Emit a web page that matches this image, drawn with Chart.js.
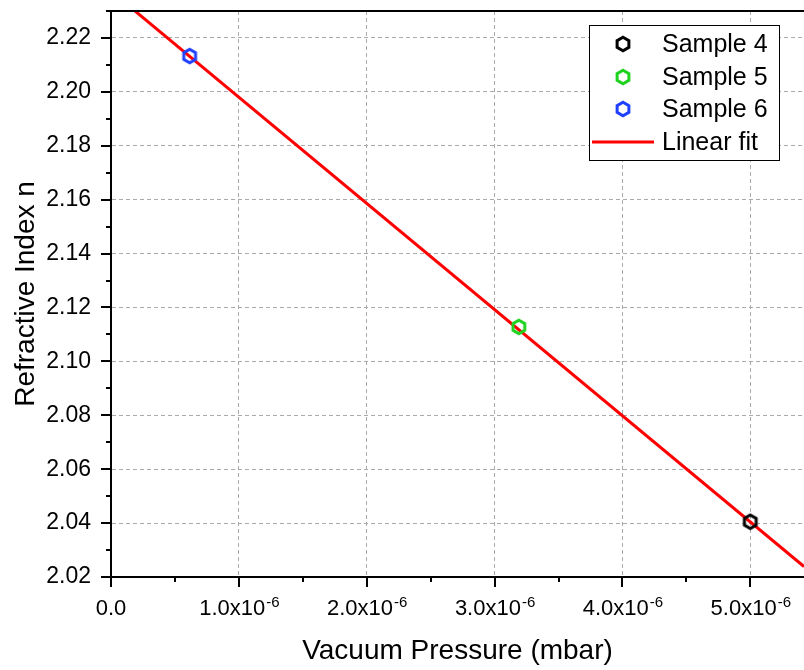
<!DOCTYPE html>
<html>
<head>
<meta charset="utf-8">
<script src="https://cdn.jsdelivr.net/npm/chart.js@4"></script>
<style>
  html, body { margin: 0; padding: 0; background: #fff; }
</style>
</head>
<body>
<canvas id="fitChart" width="804" height="670"></canvas>
<script>
// pressure is in units of 1e-6 mbar
var sampleNames = ["Sample 4", "Sample 5", "Sample 6"];
var sampleColors = ["#000000", "#1fd21f", "#2040ff"];
var pressure = [5.0, 3.19, 0.615];
var refIndex = [2.0405, 2.1128, 2.2133];

var fitLabel = "Linear fit";
var fitPressure = [0, 5.42];
var fitIndex = [2.2374, 2.0239];

var xMajor = [0, 1, 2, 3, 4, 5];
var xMinor = [0.5, 1.5, 2.5, 3.5, 4.5];
var yMajor = [2.02, 2.04, 2.06, 2.08, 2.10, 2.12, 2.14, 2.16, 2.18, 2.20, 2.22];
var yMinor = [2.03, 2.05, 2.07, 2.09, 2.11, 2.13, 2.15, 2.17, 2.19, 2.21, 2.23];

var FONT = "'Liberation Sans', Arial, sans-serif";

function hexagon(color) {
   var c = document.createElement("canvas");
   c.width = 20;
   c.height = 20;
   var g = c.getContext("2d");
   var r = 6.8;
   g.beginPath();
   for (var i = 0; i < 6; i++) {
      var a = Math.PI / 3 * i - Math.PI / 2;
      var px = 10 + r * Math.cos(a);
      var py = 10 + r * Math.sin(a);
      if (i == 0) g.moveTo(px, py); else g.lineTo(px, py);
   }
   g.closePath();
   g.lineWidth = 3;
   g.strokeStyle = color;
   g.stroke();
   return c;
}

var datasets = [];
for (let i = 0; i < sampleNames.length; i++) {
   datasets.push({
      label: sampleNames[i],
      data: [{ x: pressure[i], y: refIndex[i] }],
      showLine: false,
      pointStyle: hexagon(sampleColors[i]),
      borderColor: sampleColors[i],
      backgroundColor: sampleColors[i],
      order: 1
   });
}
var fitData = [];
for (let i = 0; i < fitPressure.length; i++) {
   fitData.push({ x: fitPressure[i], y: fitIndex[i] });
}
datasets.push({
   label: fitLabel,
   data: fitData,
   showLine: true,
   borderColor: "#ff0000",
   borderWidth: 3,
   pointRadius: 0,
   order: 2
});

// ticks, x labels with superscript, top frame and the legend box
var decor = {
   id: "decor",
   afterDraw: function (chart) {
      var ctx = chart.ctx;
      var a = chart.chartArea;
      var xs = chart.scales.x, ys = chart.scales.y;
      ctx.save();
      ctx.strokeStyle = "#000";
      ctx.lineWidth = 2;
      ctx.beginPath();
      ctx.moveTo(a.left - 1, a.top);
      ctx.lineTo(a.right, a.top);
      ctx.stroke();

      ctx.lineWidth = 2;
      ctx.beginPath();
      xMajor.forEach(function (v) {
         var px = Math.round(xs.getPixelForValue(v));
         ctx.moveTo(px, a.bottom); ctx.lineTo(px, a.bottom + 10);
      });
      xMinor.forEach(function (v) {
         var px = Math.round(xs.getPixelForValue(v));
         ctx.moveTo(px, a.bottom); ctx.lineTo(px, a.bottom + 5);
      });
      yMajor.forEach(function (v) {
         var py = Math.round(ys.getPixelForValue(v));
         ctx.moveTo(a.left, py); ctx.lineTo(a.left - 10, py);
      });
      yMinor.forEach(function (v) {
         var py = Math.round(ys.getPixelForValue(v));
         ctx.moveTo(a.left, py); ctx.lineTo(a.left - 5, py);
      });
      ctx.stroke();

      // x tick labels
      ctx.fillStyle = "#000";
      ctx.textBaseline = "alphabetic";
      ctx.textAlign = "left";
      xMajor.forEach(function (v) {
         var px = xs.getPixelForValue(v);
         var base = v.toFixed(1);
         if (v == 0) {
            ctx.font = "22px " + FONT;
            var w0 = ctx.measureText(base).width;
            ctx.fillText(base, px - w0 / 2, 615);
            return;
         }
         var main = base + "x10";
         ctx.font = "22px " + FONT;
         var w1 = ctx.measureText(main).width;
         ctx.font = "15px " + FONT;
         var w2 = ctx.measureText("-6").width;
         var x0 = px - (w1 + w2) / 2;
         ctx.font = "22px " + FONT;
         ctx.fillText(main, x0, 615);
         ctx.font = "15px " + FONT;
         ctx.fillText("-6", x0 + w1 + 1, 607);
      });

      // legend
      var lx = 589.5, ly = 25.5, lw = 190, lh = 135;
      ctx.fillStyle = "#fff";
      ctx.fillRect(lx, ly, lw, lh);
      ctx.strokeStyle = "#000";
      ctx.lineWidth = 1;
      ctx.strokeRect(lx, ly, lw, lh);
      var rows = [44, 77, 109, 142];
      ctx.font = "25px " + FONT;
      ctx.textBaseline = "middle";
      chart.data.datasets.forEach(function (ds, i) {
         var ry = rows[i];
         if (ds.showLine) {
            ctx.strokeStyle = ds.borderColor;
            ctx.lineWidth = 3;
            ctx.beginPath();
            ctx.moveTo(592, ry);
            ctx.lineTo(654, ry);
            ctx.stroke();
         } else {
            var img = ds.pointStyle;
            ctx.drawImage(img, 623 - img.width / 2, ry - img.height / 2);
         }
         ctx.fillStyle = "#000";
         ctx.fillText(ds.label, 662, ry + 1);
      });
      ctx.restore();
   }
};

var ctx = document.getElementById("fitChart").getContext("2d");
var chart = new Chart(ctx, {
   type: "scatter",
   data: { datasets: datasets },
   options: {
      responsive: false,
      animation: false,
      devicePixelRatio: 1,
      layout: { autoPadding: false, padding: { top: 11, right: 0, left: 0, bottom: 0 } },
      plugins: { legend: { display: false }, tooltip: { enabled: false } },
      elements: { point: { radius: 7 } },
      scales: {
         x: {
            type: "linear",
            min: 0,
            max: 5.42,
            afterBuildTicks: function (s) { s.ticks = xMajor.map(function (v) { return { value: v }; }); },
            afterFit: function (s) {
               s.height = 93;
               s.paddingLeft = 0;
               s.paddingRight = 0;
            },
            ticks: { display: false },
            grid: { color: "#aaaaaa", lineWidth: 1, drawTicks: false },
            border: { color: "#000", width: 2, dash: [4, 3] },
            title: {
               display: true,
               text: "Vacuum Pressure (mbar)",
               color: "#000",
               font: { family: FONT, size: 28 },
               padding: { top: 0, bottom: 2 }
            }
         },
         y: {
            type: "linear",
            min: 2.02,
            max: 2.23,
            afterBuildTicks: function (s) { s.ticks = yMajor.map(function (v) { return { value: v }; }); },
            afterFit: function (s) {
               s.width = 111;
               s.paddingTop = 0;
               s.paddingBottom = 0;
            },
            ticks: {
               color: "#000",
               font: { family: FONT, size: 23 },
               padding: 20,
               callback: function (v) { return v.toFixed(2); }
            },
            grid: { color: "#aaaaaa", lineWidth: 1, drawTicks: false },
            border: { color: "#000", width: 2, dash: [4, 3] },
            title: {
               display: true,
               text: "Refractive Index n",
               color: "#000",
               font: { family: FONT, size: 28 },
               padding: { top: 9, bottom: 0 }
            }
         }
      }
   },
   plugins: [decor]
});
</script>
</body>
</html>
